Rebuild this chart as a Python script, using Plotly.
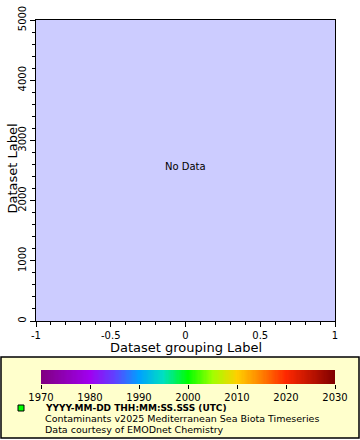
import numpy as np
import plotly.graph_objects as go

# ---- data / labels ----
x_range = [-1, 1]
y_range = [0, 5000]
x_ticks = [-1, -0.5, 0, 0.5, 1]
x_tick_labels = ["-1", "-0.5", "0", "0.5", "1"]
y_ticks = [0, 1000, 2000, 3000, 4000, 5000]
y_tick_labels = ["0", "1000", "2000", "3000", "4000", "5000"]
cbar_years = [1970, 1980, 1990, 2000, 2010, 2020, 2030]
cbar_labels = ["1970", "1980", "1990", "2000", "2010", "2020", "2030"]
x_title = "Dataset grouping Label"
y_title = "Dataset Label"
no_data_text = "No Data"
legend_lines = [
    "<b>YYYY-MM-DD THH:MM:SS.SSS (UTC)</b>",
    "Contaminants v2025 Mediterranean Sea Biota Timeseries",
    "Data courtesy of EMODnet Chemistry",
]

W, H = 360, 440
FONT = "DejaVu Sans"

def px(x):
    return x / W

def py(y):
    return 1 - y / H

colorscale = [
    [0.0, "#800080"],
    [0.1667, "#a000f0"],
    [0.25, "#6040ff"],
    [0.3333, "#00a0ff"],
    [0.4167, "#00e0c0"],
    [0.5, "#00ff00"],
    [0.5833, "#a0ff00"],
    [0.6667, "#ffd000"],
    [0.75, "#ff8000"],
    [0.8333, "#ff2800"],
    [1.0, "#800000"],
]

fig = go.Figure()

# empty main plot (no data)
fig.add_trace(go.Scatter(x=[], y=[], mode="markers", xaxis="x", yaxis="y",
                         showlegend=False))

# colorbar gradient as heatmap on its own axes
grad = np.linspace(cbar_years[0], cbar_years[-1], 241)
fig.add_trace(go.Heatmap(x=grad, y=[0], z=[grad], colorscale=colorscale,
                         zmin=cbar_years[0], zmax=cbar_years[-1],
                         showscale=False, xaxis="x2", yaxis="y2",
                         hoverinfo="skip"))

axis_common = dict(showgrid=False, zeroline=False, showline=True,
                   linecolor="black", linewidth=1, mirror=True,
                   ticks="outside", ticklen=5, tickcolor="black",
                   automargin=False,
                   tickfont=dict(family=FONT, size=10, color="black"))

fig.update_layout(
    template="none",
    width=W, height=H,
    margin=dict(l=0, r=0, t=0, b=0, pad=0),
    showlegend=False,
    paper_bgcolor="white",
    plot_bgcolor="#ccccff",
    xaxis=dict(domain=[px(36), px(335)], range=x_range, tickvals=x_ticks,
               ticktext=x_tick_labels, anchor="y",
               minor=dict(dtick=0.1, ticklen=3, ticks="outside", tickcolor="black"),
               **axis_common),
    yaxis=dict(domain=[py(321), py(20)], range=y_range, tickvals=y_ticks,
               ticktext=y_tick_labels, tickangle=-90, anchor="x",
               minor=dict(dtick=200, ticklen=3, ticks="outside", tickcolor="black"),
               **axis_common),
    xaxis2=dict(domain=[px(41), px(335)], range=[cbar_years[0], cbar_years[-1]],
                tickvals=cbar_years, ticktext=cbar_labels, anchor="y2",
                showgrid=False, zeroline=False, showline=False, automargin=False,
                ticks="outside", ticklen=4, tickcolor="black",
                tickfont=dict(family=FONT, size=10, color="black")),
    yaxis2=dict(domain=[py(384), py(370)], range=[-0.5, 0.5], anchor="x2",
                showticklabels=False, ticks="", showgrid=False, zeroline=False,
                showline=False, automargin=False),
    shapes=[
        dict(type="rect", xref="paper", yref="paper",
             x0=px(1), x1=px(359), y0=py(438), y1=py(357),
             fillcolor="#ffffcc", line=dict(color="black", width=1.5),
             layer="below"),
        dict(type="rect", xref="paper", yref="paper",
             x0=px(18), x1=px(24), y0=py(411), y1=py(405),
             fillcolor="#00ff00", line=dict(color="black", width=1)),
    ],
    annotations=[
        dict(text=no_data_text, xref="x", yref="y", x=0, y=2560, showarrow=False,
             font=dict(family=FONT, size=10, color="black")),
        dict(text=x_title, xref="paper", yref="paper", x=(px(36) + px(335)) / 2,
             y=py(347.5), showarrow=False, xanchor="center", yanchor="middle",
             font=dict(family=FONT, size=13, color="black")),
        dict(text=y_title, xref="paper", yref="paper", x=px(12.5),
             y=py(169), showarrow=False, textangle=-90,
             xanchor="center", yanchor="middle",
             font=dict(family=FONT, size=13, color="black")),
        dict(text=legend_lines[0], xref="paper", yref="paper", x=px(42.5), y=py(407.5),
             showarrow=False, xanchor="left", yanchor="middle",
             font=dict(family=FONT, size=9, color="black")),
        dict(text=legend_lines[1], xref="paper", yref="paper", x=px(42.5), y=py(418.5),
             showarrow=False, xanchor="left", yanchor="middle",
             font=dict(family=FONT, size=9.5, color="black")),
        dict(text=legend_lines[2], xref="paper", yref="paper", x=px(42.5), y=py(429),
             showarrow=False, xanchor="left", yanchor="middle",
             font=dict(family=FONT, size=9.5, color="black")),
    ],
)

fig.write_html("out.html", config={"displayModeBar": False},
               post_script="document.body.style.margin='0';document.body.style.overflow='hidden';")
